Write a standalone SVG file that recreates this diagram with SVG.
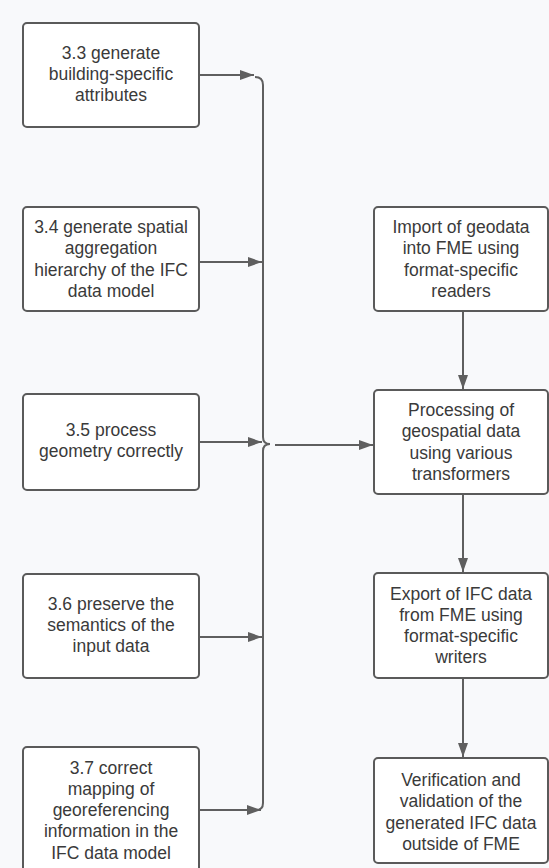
<svg xmlns="http://www.w3.org/2000/svg" width="549" height="868" viewBox="0 0 549 868">
<style>
.bg{fill:#f8f9fb}
.box{fill:#ffffff;stroke:#5a5a5a;stroke-width:2}
.lbl{font-family:"Liberation Sans",Arial,sans-serif;font-size:17.5px;fill:#3a3a3a;text-anchor:middle}
.con{fill:none;stroke:#5f5f5f;stroke-width:2}
</style>
<defs>
<marker id="ah" markerUnits="userSpaceOnUse" markerWidth="14" markerHeight="10" refX="14" refY="5" orient="auto">
<path d="M0,0 L14,5 L0,10 z" fill="#5f5f5f"/>
</marker>
</defs>
<rect class="bg" x="0" y="0" width="549" height="868"/>
<g id="connectors">
<path class="con" d="M255,77 Q263,77 263,85 V437 Q263,444 270,444 Q263,444 263,451 V803 Q263,810 256,810"/>
<line class="con" x1="199" y1="75" x2="254" y2="75" marker-end="url(#ah)"/>
<line class="con" x1="199" y1="262" x2="262" y2="262" marker-end="url(#ah)"/>
<line class="con" x1="199" y1="442" x2="262" y2="442" marker-end="url(#ah)"/>
<line class="con" x1="199" y1="637" x2="262" y2="637" marker-end="url(#ah)"/>
<line class="con" x1="199" y1="810" x2="261" y2="810" marker-end="url(#ah)"/>
<line class="con" x1="275" y1="445" x2="373" y2="445" marker-end="url(#ah)"/>
<line class="con" x1="463" y1="311" x2="463" y2="389" marker-end="url(#ah)"/>
<line class="con" x1="463" y1="494" x2="463" y2="572" marker-end="url(#ah)"/>
<line class="con" x1="463" y1="678" x2="463" y2="757" marker-end="url(#ah)"/>
</g>
<g id="n33">
<rect class="box" x="23" y="23" width="176" height="104" rx="4"/>
<text class="lbl" y="58.5"><tspan x="111">3.3 generate</tspan><tspan x="111" dy="21.3">building-specific</tspan><tspan x="111" dy="21.3">attributes</tspan></text>
</g>
<g id="n34">
<rect class="box" x="23" y="207" width="176" height="104" rx="4"/>
<text class="lbl" y="233"><tspan x="111">3.4 generate spatial</tspan><tspan x="111" dy="21.3">aggregation</tspan><tspan x="111" dy="21.3">hierarchy of the IFC</tspan><tspan x="111" dy="21.3">data model</tspan></text>
</g>
<g id="n35">
<rect class="box" x="23" y="394" width="176" height="96" rx="4"/>
<text class="lbl" y="435.5"><tspan x="111">3.5 process</tspan><tspan x="111" dy="21.3">geometry correctly</tspan></text>
</g>
<g id="n36">
<rect class="box" x="23" y="574" width="176" height="104" rx="4"/>
<text class="lbl" y="609.5"><tspan x="111">3.6 preserve the</tspan><tspan x="111" dy="21.3">semantics of the</tspan><tspan x="111" dy="21.3">input data</tspan></text>
</g>
<g id="n37">
<rect class="box" x="23" y="747" width="176" height="128" rx="4"/>
<text class="lbl" y="773.5"><tspan x="111">3.7 correct</tspan><tspan x="111" dy="21.3">mapping of</tspan><tspan x="111" dy="21.3">georeferencing</tspan><tspan x="111" dy="21.3">information in the</tspan><tspan x="111" dy="21.3">IFC data model</tspan></text>
</g>
<g id="import">
<rect class="box" x="374" y="207" width="174" height="104" rx="4"/>
<text class="lbl" y="233"><tspan x="461">Import of geodata</tspan><tspan x="461" dy="21.3">into FME using</tspan><tspan x="461" dy="21.3">format-specific</tspan><tspan x="461" dy="21.3">readers</tspan></text>
</g>
<g id="processing">
<rect class="box" x="374" y="390" width="174" height="104" rx="4"/>
<text class="lbl" y="416"><tspan x="461">Processing of</tspan><tspan x="461" dy="21.3">geospatial data</tspan><tspan x="461" dy="21.3">using various</tspan><tspan x="461" dy="21.3">transformers</tspan></text>
</g>
<g id="export">
<rect class="box" x="374" y="573" width="174" height="105" rx="4"/>
<text class="lbl" y="599.5"><tspan x="461">Export of IFC data</tspan><tspan x="461" dy="21.3">from FME using</tspan><tspan x="461" dy="21.3">format-specific</tspan><tspan x="461" dy="21.3">writers</tspan></text>
</g>
<g id="verification">
<rect class="box" x="374" y="758" width="174" height="105" rx="4"/>
<text class="lbl" y="786"><tspan x="461">Verification and</tspan><tspan x="461" dy="21.3">validation of the</tspan><tspan x="461" dy="21.3">generated IFC data</tspan><tspan x="461" dy="21.3">outside of FME</tspan></text>
</g>
</svg>
